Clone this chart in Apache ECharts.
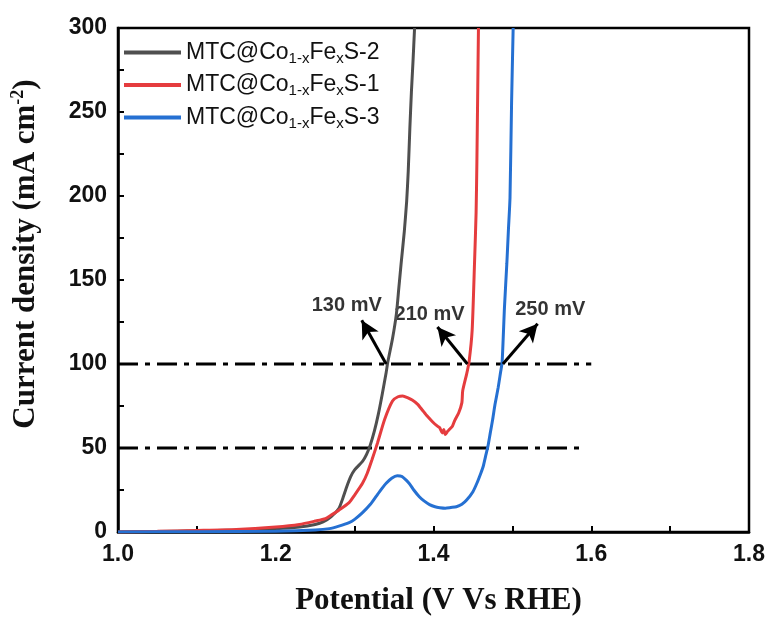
<!DOCTYPE html>
<html><head><meta charset="utf-8">
<script src="https://cdn.jsdelivr.net/npm/echarts@6/dist/echarts.min.js"></script>
<style>html,body{margin:0;padding:0;background:#fff}#c{width:768px;height:623px}</style>
</head><body><div id="c"></div>
<script>
// ---- data ----
var seriesNames = ['S-2', 'S-1', 'S-3'];
var s2X = [1.00,1.05,1.10,1.15,1.20,1.23,1.25,1.26,1.27,1.28,1.285,1.29,1.295,1.30,1.31,1.315,1.32,1.325,1.33,1.335,1.34,1.342,1.348,1.353,1.356,1.359,1.363,1.366,1.368,1.370,1.372,1.374,1.376];
var s2Y = [0.0,0.3,0.7,1.2,2.0,3.0,4.5,6,9,14,20,27,33,37,42,46,52,60,70,82,95,101,115,130,145,160,179,197,215,240,262,280,300];
var s1X = [1.00,1.05,1.10,1.15,1.20,1.23,1.25,1.263,1.27,1.28,1.293,1.30,1.31,1.316,1.322,1.329,1.338,1.348,1.355,1.361,1.367,1.373,1.38,1.386,1.392,1.399,1.405,1.408,1.411,1.413,1.415,1.418,1.42,1.424,1.427,1.432,1.436,1.437,1.442,1.445,1.449,1.452,1.454,1.455,1.456,1.457];
var s1Y = [0,0.4,0.9,1.5,3.0,4.5,6.5,8,10,13,17.5,22,29,35,43,53,67,78,80.5,81,80,78.5,76,72.5,69,65.5,63,62,59,61,58,60,61,63,66.5,71,77,84,94,101,120,160,190,220,260,300];
var s3X = [1.00,1.10,1.20,1.25,1.268,1.28,1.293,1.30,1.31,1.32,1.327,1.334,1.34,1.347,1.354,1.36,1.369,1.375,1.382,1.388,1.395,1.402,1.408,1.415,1.422,1.429,1.436,1.442,1.45,1.455,1.46,1.463,1.466,1.469,1.472,1.475,1.478,1.482,1.485,1.487,1.49,1.493,1.495,1.497,1.499,1.501];
var s3Y = [0,0.2,0.5,1.2,2,3.5,5.6,7.5,11.5,16.5,21,25.5,29,32,33.5,33,29,25,21,18.5,16.3,15,14.5,14.2,14.6,15,16.5,19,24,29,35,39,45,51,59,67,76,86,95,101,134,160,180,199,256,300];
var refLevels = [100, 50];
var refEndX = [1.6, 1.59];
var annLabels = ['130 mV', '210 mV', '250 mV'];
var annTextX = [1.290, 1.395, 1.548];
var annTextY = [135, 129.5, 132.5];
var arrowTailX = [1.340, 1.443, 1.488];
var arrowTailY = [100, 100, 100];
var arrowHeadX = [1.309, 1.405, 1.532];
var arrowHeadY = [126, 122, 124];
var xTicks = [1.0, 1.2, 1.4, 1.6, 1.8];
var yTicks = [0, 50, 100, 150, 200, 250, 300];

var colors = ['#4f4f4f', '#e53c3e', '#2570d2'];
function zip(a, b) { return a.map(function (v, i) { return [v, b[i]]; }); }

var chart = echarts.init(document.getElementById('c'), null, {renderer: 'canvas'});
var sansRich = {
  a: {fontSize: 23, fontFamily: 'Liberation Sans', color: '#111', lineHeight: 27},
  s: {fontSize: 15, fontFamily: 'Liberation Sans', color: '#111', lineHeight: 15, verticalAlign: 'bottom'}
};

var curveData = [zip(s2X, s2Y), zip(s1X, s1Y), zip(s3X, s3Y)];
var series = seriesNames.map(function (n, i) {
  return {
    name: n, type: 'line', data: curveData[i], symbol: 'none', smooth: 0.2,
    lineStyle: {color: colors[i], width: 3}, itemStyle: {color: colors[i]},
    clip: true, z: 3
  };
});
refLevels.forEach(function (lv, i) {
  series.push({
    name: 'ref' + lv, type: 'line', symbol: 'none', silent: true,
    data: [[1.0, lv], [refEndX[i], lv]],
    lineStyle: {color: '#000', width: 3, type: [20, 7, 5, 7]}, z: 2
  });
});
// arrows
series.push({
  name: 'arrows', type: 'line', data: [], silent: true,
  markLine: {
    silent: true, animation: false,
    lineStyle: {color: '#000', width: 3, type: 'solid'},
    label: {show: false},
    data: annLabels.map(function (l, i) {
      return [{coord: [arrowTailX[i], arrowTailY[i]], symbol: 'none'},
              {coord: [arrowHeadX[i], arrowHeadY[i]], symbol: 'arrow', symbolSize: [14, 18]}];
    })
  }
});
series.push({
  name: 'ann', type: 'scatter', silent: true, symbolSize: 0,
  data: annLabels.map(function (l, i) { return [annTextX[i], annTextY[i], l]; }),
  label: {show: true, position: 'inside', formatter: function (p) { return p.data[2]; },
    fontFamily: 'Liberation Sans', fontWeight: 'bold', fontSize: 20, color: '#000'}
});

chart.setOption({
  animation: false,
  backgroundColor: '#fff',
  grid: {left: 118, right: 19, top: 28, bottom: 91, show: true, borderColor: '#000', borderWidth: 2.5, backgroundColor: 'transparent'},
  legend: {
    data: seriesNames, left: 119, top: 36, orient: 'vertical', icon: 'rect',
    itemWidth: 57, itemHeight: 4, itemGap: 7.5,
    formatter: function (n) { return '{a|MTC@Co}{s|1-x}{a|Fe}{s|x}{a|' + n + '}'; },
    textStyle: {rich: sansRich, padding: [0, 0, 0, 0]}
  },
  xAxis: {
    type: 'value', min: 1.0, max: 1.8, interval: 0.2,
    axisLine: {lineStyle: {color: '#000', width: 2.5}},
    axisTick: {inside: true, length: 6, lineStyle: {width: 2, color: '#000'}},
    minorTick: {show: true, splitNumber: 2, length: 6, lineStyle: {width: 2, color: '#000'}},
    splitLine: {show: false},
    axisLabel: {margin: 11, fontFamily: 'Liberation Sans', fontWeight: 'bold', fontSize: 23, color: '#111',
      formatter: function (v) { return v.toFixed(1); }},
    name: 'Potential (V Vs RHE)', nameLocation: 'middle', nameGap: 53,
    nameTextStyle: {fontFamily: 'Liberation Serif', fontWeight: 'bold', fontSize: 31, color: '#111', padding: [0, 0, 0, 10]}
  },
  yAxis: {
    type: 'value', min: 0, max: 300, interval: 50,
    axisLine: {lineStyle: {color: '#000', width: 2.5}},
    axisTick: {inside: true, length: 6, lineStyle: {width: 2, color: '#000'}},
    minorTick: {show: true, splitNumber: 2, length: 6, lineStyle: {width: 2, color: '#000'}},
    splitLine: {show: false},
    axisLabel: {margin: 11, fontFamily: 'Liberation Sans', fontWeight: 'bold', fontSize: 23, color: '#111'},
    name: '{t|Current density (mA cm}{p|-2}{t|)}', nameLocation: 'middle', nameGap: 75, nameRotate: 90,
    nameTextStyle: {padding: [0, 0, 0, 52], rich: {
      t: {fontFamily: 'Liberation Serif', fontWeight: 'bold', fontSize: 31, color: '#111', lineHeight: 34},
      p: {fontFamily: 'Liberation Serif', fontWeight: 'bold', fontSize: 18, color: '#111', lineHeight: 18, verticalAlign: 'top'}
    }}
  },
  series: series
});
</script></body></html>
